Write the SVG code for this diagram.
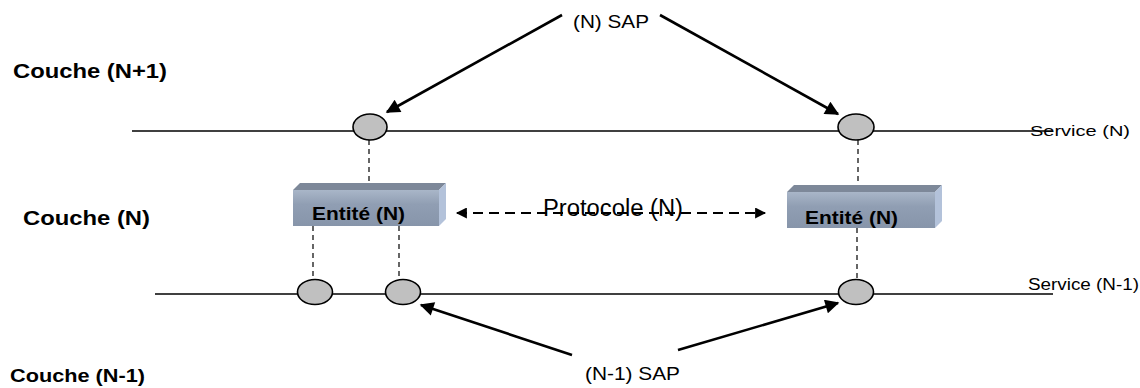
<svg xmlns="http://www.w3.org/2000/svg" width="1140" height="388" viewBox="0 0 1140 388">
<style>
.lbl{font-family:"Liberation Sans",Arial,sans-serif;fill:#000}
.b{font-weight:bold}
.line{stroke:#000;stroke-width:1.6;fill:none}
.sap{fill:#c0c0c0;stroke:#000;stroke-width:1.6}
.dash{stroke:#000;stroke-width:1.2;stroke-dasharray:5,4;fill:none}
.arr{stroke:#000;stroke-width:2.6;fill:none;marker-end:url(#ah)}
.front{fill:url(#gf)}
.top{fill:#7d8899}
.side{fill:#b3c2da}
</style>
<defs>
<marker id="ah" viewBox="0 0 10 10" refX="9" refY="5" markerWidth="16" markerHeight="14" markerUnits="userSpaceOnUse" orient="auto">
<path d="M0,0 L10,5 L0,10 z" fill="#000"/>
</marker>
<marker id="ph" viewBox="0 0 10 10" refX="9" refY="5" markerWidth="13" markerHeight="11" markerUnits="userSpaceOnUse" orient="auto-start-reverse">
<path d="M0,0 L10,5 L0,10 z" fill="#000"/>
</marker>
<linearGradient id="gf" x1="0" y1="0" x2="0" y2="1">
<stop offset="0" stop-color="#a9b6c8"/>
<stop offset="0.4" stop-color="#909eb3"/>
<stop offset="1" stop-color="#8795aa"/>
</linearGradient>
</defs>

<g id="layer-labels">
<text class="lbl b" x="13" y="78" font-size="21" textLength="154" lengthAdjust="spacingAndGlyphs">Couche (N+1)</text>
<text class="lbl b" x="23" y="225" font-size="20" textLength="127" lengthAdjust="spacingAndGlyphs">Couche (N)</text>
<text class="lbl b" x="10" y="382" font-size="19" textLength="135" lengthAdjust="spacingAndGlyphs">Couche (N-1)</text>
</g>

<g id="connectors">
<line class="line" x1="132" y1="131" x2="1052" y2="131"/>
<line class="line" x1="155" y1="294" x2="1053" y2="294"/>
<line class="dash" x1="369" y1="140" x2="369" y2="184"/>
<line class="dash" x1="858" y1="140" x2="858" y2="186"/>
<line class="dash" x1="313" y1="226" x2="313" y2="281"/>
<line class="dash" x1="399" y1="226" x2="399" y2="281"/>
<line class="dash" x1="857" y1="228" x2="857" y2="281"/>
<line class="arr" x1="562" y1="15" x2="387" y2="112"/>
<line class="arr" x1="660" y1="15" x2="838" y2="114"/>
<line class="arr" x1="572" y1="355" x2="421" y2="305"/>
<line class="arr" x1="678" y1="350" x2="838" y2="303"/>
<line x1="457" y1="213" x2="765" y2="213" stroke="#000" stroke-width="2" stroke-dasharray="10,6" marker-start="url(#ph)" marker-end="url(#ph)"/>
</g>

<g id="sap-n-left"><ellipse class="sap" cx="370" cy="127" rx="17" ry="13"/></g>
<g id="sap-n-right"><ellipse class="sap" cx="856" cy="127" rx="18" ry="13"/></g>
<g id="sap-n1-a"><ellipse class="sap" cx="315" cy="292" rx="17.5" ry="12.5"/></g>
<g id="sap-n1-b"><ellipse class="sap" cx="403" cy="292" rx="17.5" ry="12.5"/></g>
<g id="sap-n1-c"><ellipse class="sap" cx="856" cy="292" rx="17.5" ry="12.5"/></g>

<g id="entity-left">
<polygon class="top" points="293,190 300,183 446,183 439,190"/>
<polygon class="side" points="439,190 446,183 446,219 439,226"/>
<rect class="front" x="293" y="190" width="146" height="36"/>
<text class="lbl b" x="312" y="220" font-size="19" textLength="93" lengthAdjust="spacingAndGlyphs">Entité (N)</text>
</g>

<g id="entity-right">
<polygon class="top" points="787,192 794,185 942,185 935,192"/>
<polygon class="side" points="935,192 942,185 942,221 935,228"/>
<rect class="front" x="787" y="192" width="148" height="36"/>
<text class="lbl b" x="805" y="224" font-size="19" textLength="93" lengthAdjust="spacingAndGlyphs">Entité (N)</text>
</g>

<g id="texts">
<text class="lbl" x="573" y="28" font-size="18.5" textLength="76" lengthAdjust="spacingAndGlyphs">(N) SAP</text>
<text class="lbl" x="585" y="380" font-size="18.5" textLength="95" lengthAdjust="spacingAndGlyphs">(N-1) SAP</text>
<text class="lbl" x="543" y="216" font-size="23" textLength="140" lengthAdjust="spacingAndGlyphs">Protocole (N)</text>
<text class="lbl" x="1030" y="136" font-size="15" textLength="100" lengthAdjust="spacingAndGlyphs">Service (N)</text>
<text class="lbl" x="1028" y="290" font-size="16" textLength="111" lengthAdjust="spacingAndGlyphs">Service (N-1)</text>
</g>
</svg>
